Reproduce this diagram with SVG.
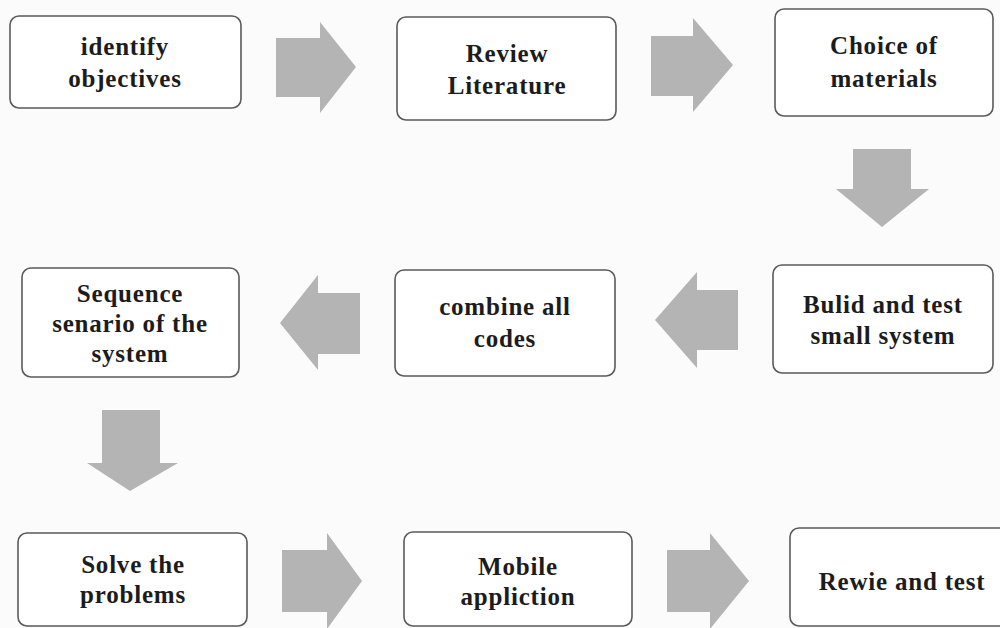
<svg xmlns="http://www.w3.org/2000/svg" width="1000" height="628" viewBox="0 0 1000 628">
<style>
.box{fill:#ffffff;stroke:#5a5a5a;stroke-width:1.6}
.arr{fill:#b4b4b4}
text{font-family:"Liberation Serif","Times New Roman",serif;font-weight:bold;font-size:25px;fill:#1c1c1c;text-anchor:middle;letter-spacing:0.8px}
</style>
<rect width="1000" height="628" fill="#fbfbfb"/>
<g id="connectors">
<polygon class="arr" points="276,38 320,38 320,22 356,67 320,113 320,97 276,97"/>
<polygon class="arr" points="651,36 693,36 693,18 733,65 693,112 693,96 651,96"/>
<polygon class="arr" points="853,149 911,149 911,189 929,189 882,227 836,189 853,189"/>
<polygon class="arr" points="360,293 318,293 318,275 280,323 318,370 318,354 360,354"/>
<polygon class="arr" points="738,290 697,290 697,272 655,320 697,368 697,350 738,350"/>
<polygon class="arr" points="102,410 160,410 160,463 178,463 130,491 87,463 102,463"/>
<polygon class="arr" points="282,550 327,550 327,533 362,581 327,629 327,612 282,612"/>
<polygon class="arr" points="667,550 710,550 710,533 749,581 710,629 710,612 667,612"/>
</g>
<g id="n1"><rect class="box" x="10" y="16" width="231" height="92" rx="9"/><text x="125" y="55">identify</text><text x="125" y="87">objectives</text></g>
<g id="n2"><rect class="box" x="397" y="17" width="219" height="103" rx="9"/><text x="507" y="62">Review</text><text x="507" y="94">Literature</text></g>
<g id="n3"><rect class="box" x="775" y="9" width="218" height="107" rx="9"/><text x="884" y="54">Choice of</text><text x="884" y="87">materials</text></g>
<g id="n4"><rect class="box" x="773" y="265" width="220" height="108" rx="9"/><text x="883" y="313">Bulid and test</text><text x="883" y="344">small system</text></g>
<g id="n5"><rect class="box" x="395" y="270" width="220" height="106" rx="9"/><text x="505" y="315">combine all</text><text x="505" y="347">codes</text></g>
<g id="n6"><rect class="box" x="22" y="268" width="217" height="109" rx="9"/><text x="130" y="302">Sequence</text><text x="130" y="332">senario of the</text><text x="130" y="362">system</text></g>
<g id="n7"><rect class="box" x="18" y="533" width="229" height="93" rx="9"/><text x="133" y="573">Solve the</text><text x="133" y="603">problems</text></g>
<g id="n8"><rect class="box" x="404" y="532" width="228" height="94" rx="9"/><text x="518" y="575">Mobile</text><text x="518" y="605">appliction</text></g>
<g id="n9"><rect class="box" x="790" y="528" width="230" height="98" rx="9"/><text x="902" y="590">Rewie and test</text></g>
</svg>
